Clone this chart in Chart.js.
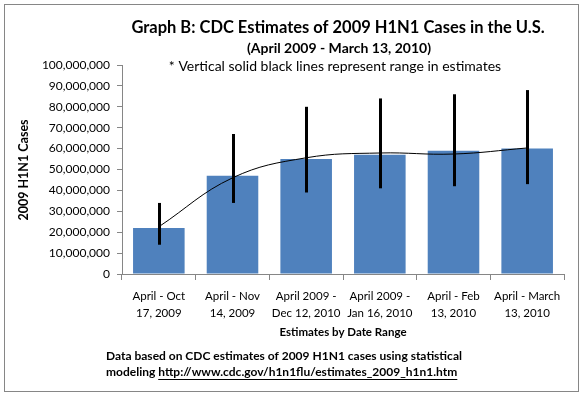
<!DOCTYPE html>
<html>
<head>
<meta charset="utf-8">
<script src="https://cdn.jsdelivr.net/npm/chart.js@4.4.1/dist/chart.umd.min.js"></script>
<style>
  html, body { margin: 0; padding: 0; background: #fff; }
  #wrap { width: 583px; height: 397px; position: relative; }
</style>
</head>
<body>
<div id="wrap"><canvas id="chart"></canvas></div>
<script>
// values
const dateRanges = [
  ["April - Oct", "17, 2009"],
  ["April - Nov", "14, 2009"],
  ["April 2009 -", "Dec 12, 2010"],
  ["April 2009 -", "Jan 16, 2010"],
  ["April - Feb", "13, 2010"],
  ["April - March", "13, 2010"],
]
const estimates = [22000000, 47000000, 55000000, 57000000, 59000000, 60000000]
const rangeLow = [14000000, 34000000, 39000000, 41000000, 42000000, 43000000]
const rangeHigh = [34000000, 67000000, 80000000, 84000000, 86000000, 88000000]
const trend = [22600000, 46000000, 55600000, 57900000, 57400000, 60300000]

const titleText = "Graph B: CDC Estimates of 2009 H1N1 Cases in the U.S."
const subtitleText = "(April 2009 - March 13, 2010)"
const noteText = "* Vertical solid black lines represent range in estimates"
const yTitle = "2009 H1N1 Cases"
const xTitle = "Estimates by Date Range"
const footerLine1 = "Data based on CDC estimates of 2009 H1N1 cases using statistical"
const footerLead = "modeling "
const footerUrl = "http://www.cdc.gov/h1n1flu/estimates_2009_h1n1.htm"

const FONT = "Lato, 'Open Sans', sans-serif"
const axisGray = "#868686"

const decorations = {
  id: "decorations",
  beforeDraw(chart) {
    const ctx = chart.ctx
    ctx.save()
    ctx.fillStyle = "#fff"
    ctx.fillRect(0, 0, chart.width, chart.height)
    ctx.strokeStyle = axisGray
    ctx.lineWidth = 1
    ctx.strokeRect(4.5, 4.5, 574, 387)
    ctx.restore()
  },
  afterDatasetsDraw(chart) {
    const ctx = chart.ctx
    const y = chart.scales.y
    const meta = chart.getDatasetMeta(1)
    ctx.save()
    ctx.strokeStyle = "#000"
    ctx.lineWidth = 3
    meta.data.forEach((bar, i) => {
      const x = Math.round(bar.x) + 0.5
      ctx.beginPath()
      ctx.moveTo(x, y.getPixelForValue(rangeHigh[i]))
      ctx.lineTo(x, y.getPixelForValue(rangeLow[i]))
      ctx.stroke()
    })
    ctx.restore()
  },
  afterDraw(chart) {
    const ctx = chart.ctx
    ctx.save()
    ctx.fillStyle = "#000"
    ctx.textAlign = "center"
    ctx.textBaseline = "middle"

    ctx.font = "bold 16.5px " + FONT
    ctx.fillText(titleText, 338, 28)
    ctx.font = "bold 14px " + FONT
    ctx.fillText(subtitleText, 339, 48)
    ctx.font = "14px " + FONT
    ctx.fillText(noteText, 335, 66)

    ctx.font = "bold 11.5px " + FONT
    ctx.fillText(xTitle, 343, 332)

    ctx.save()
    ctx.translate(24, 170)
    ctx.rotate(-Math.PI / 2)
    ctx.font = "bold 12.5px " + FONT
    ctx.fillText(yTitle, 0, 0)
    ctx.restore()

    ctx.textAlign = "left"
    ctx.font = "bold 12px " + FONT
    ctx.fillText(footerLine1, 106, 356)
    ctx.fillText(footerLead + footerUrl, 106, 372)
    const leadW = ctx.measureText(footerLead).width
    const urlW = ctx.measureText(footerUrl).width
    ctx.fillRect(106 + leadW, 379, urlW, 1)
    ctx.restore()
  },
}

new Chart(document.getElementById("chart"), {
  type: "bar",
  data: {
    labels: dateRanges,
    datasets: [
      {
        type: "line",
        data: trend,
        borderColor: "#000",
        borderWidth: 1,
        pointRadius: 0,
        tension: 0.4,
        fill: false,
        order: 0,
      },
      {
        data: estimates,
        backgroundColor: "#4F81BD",
        barPercentage: 0.7,
        categoryPercentage: 1,
        order: 1,
      },
    ],
  },
  options: {
    animation: false,
    responsive: true,
    maintainAspectRatio: false,
    devicePixelRatio: 1,
    layout: { padding: { left: 4, top: 65, right: 19, bottom: 0 } },
    plugins: {
      legend: { display: false },
      tooltip: { enabled: false },
      title: { display: false },
    },
    events: [],
    scales: {
      x: {
        afterFit: (s) => { s.height = 123 },
        grid: { drawOnChartArea: false, tickLength: 6, color: axisGray, offset: true },
        border: { color: axisGray },
        ticks: {
          color: "#000",
          padding: 8,
          maxRotation: 0,
          autoSkip: false,
          font: { family: FONT, size: 11.5, lineHeight: 1.45 },
        },
      },
      y: {
        min: 0,
        max: 100000000,
        afterFit: (s) => { s.width = 118 },
        grid: { drawOnChartArea: false, tickLength: 5, color: axisGray },
        border: { color: axisGray },
        ticks: {
          stepSize: 10000000,
          color: "#000",
          padding: 7,
          font: { family: FONT, size: 12 },
          callback: (v) => v.toLocaleString("en-US"),
        },
      },
    },
  },
  plugins: [decorations],
})
</script>
</body>
</html>
